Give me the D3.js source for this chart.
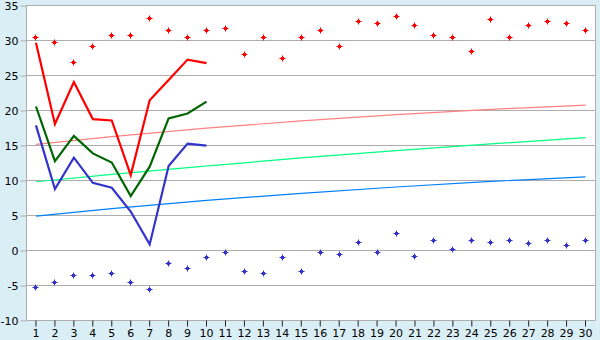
<!DOCTYPE html>
<html>
<head>
<meta charset="utf-8">
<script src="https://cdn.jsdelivr.net/npm/d3@7"></script>
<style>
    body { margin: 0; background: #daeef5; }
    #viz { width: 600px; height: 340px; }
    text { font-family: "DejaVu Sans", Verdana, sans-serif; font-size: 11px; fill: #000; }
</style>
</head>
<body>
<div id="viz"></div>
<script>
// days 1..30
var days = d3.range(1, 31);
var yTicks = [-10, -5, 0, 5, 10, 15, 20, 25, 30, 35];

// scattered points (top = red, bottom = blue)
var highPoints = [30.4, 29.6, 26.8, 29.0, 30.7, 30.7, 33.1, 31.3, 30.4, 31.3,
    31.7, 27.9, 30.4, 27.4, 30.4, 31.4, 29.0, 32.7, 32.4, 33.3,
    32.0, 30.7, 30.3, 28.4, 32.9, 30.4, 32.0, 32.6, 32.4, 31.4];
var lowPoints = [-5.3, -4.6, -3.7, -3.6, -3.3, -4.7, -5.7, -1.9, -2.6, -1.1,
    -0.4, -3.0, -3.3, -1.0, -3.0, -0.3, -0.7, 1.1, -0.4, 2.4,
    -0.9, 1.3, 0.1, 1.4, 1.1, 1.4, 0.9, 1.3, 0.7, 1.4];

// first ten days as lines
var redLine = [29.6, 18.0, 24.0, 18.7, 18.5, 10.7, 21.4, 24.3, 27.2, 26.7];
var greenLine = [20.5, 12.7, 16.3, 13.8, 12.5, 7.7, 11.9, 18.8, 19.5, 21.2];
var blueLine = [17.8, 8.7, 13.2, 9.6, 8.9, 5.5, 0.8, 12.0, 15.2, 14.9];

// trend curves, read at a few days
var trendDays = [1, 5, 10, 15, 20, 25, 30];
var pinkTrend = [15.1, 16.2, 17.4, 18.45, 19.35, 20.1, 20.7];
var springTrend = [9.75, 10.8, 12.0, 13.15, 14.2, 15.15, 16.05];
var skyTrend = [4.85, 5.9, 7.1, 8.1, 9.0, 9.8, 10.45];

function drawChart() {
    var width = 600;
    var height = 340;
    var margin = {
        top: 5,
        right: 5,
        bottom: 20,
        left: 26.5
    }

    var svg = d3.select("#viz")
        .append('svg')
        .attr('width', width)
        .attr('height', height);

    var xScale = d3.scaleBand()
        .domain(days)
        .range([margin.left, width - margin.right]);
    var yScale = d3.scaleLinear()
        .domain([-10, 35])
        .range([height - margin.bottom, margin.top]);

    function cx(d) {
        return xScale(d) + xScale.bandwidth() / 2;
    }

    // plot background
    svg.append('rect')
        .attr('x', margin.left)
        .attr('y', margin.top)
        .attr('width', width - margin.right - margin.left)
        .attr('height', height - margin.bottom - margin.top)
        .attr('fill', '#fff');

    // grid lines
    svg.append('g')
        .selectAll('line')
        .data(yTicks)
        .join('line')
        .attr('x1', margin.left)
        .attr('x2', width - margin.right)
        .attr('y1', function (d) { return Math.round(yScale(d)) + 0.5; })
        .attr('y2', function (d) { return Math.round(yScale(d)) + 0.5; })
        .attr('stroke', '#adadad');

    // left and right borders
    svg.append('line')
        .attr('x1', margin.left).attr('x2', margin.left)
        .attr('y1', margin.top).attr('y2', height - margin.bottom + 0.5)
        .attr('stroke', '#adadad');
    svg.append('line')
        .attr('x1', width - margin.right + 0.5).attr('x2', width - margin.right + 0.5)
        .attr('y1', margin.top).attr('y2', height - margin.bottom + 0.5)
        .attr('stroke', '#adadad');

    var yAxis = svg.append('g')
        .attr('transform', 'translate(' + margin.left + ',0.5)')
        .call(d3.axisLeft(yScale).tickValues(yTicks).tickSize(6).tickPadding(2)
            .tickFormat(function (d) { return String(d); }));
    yAxis.select('.domain').remove();
    yAxis.selectAll('line').attr('stroke', '#adadad');

    var xAxis = svg.append('g')
        .attr('transform', 'translate(0,' + (height - margin.bottom + 0.5) + ')')
        .call(d3.axisBottom(xScale).tickSize(6).tickPadding(3));
    xAxis.select('.domain').remove();
    xAxis.selectAll('line').attr('stroke', '#222');

    // trend curves
    var trendLine = d3.line()
        .x(function (d, i) { return cx(trendDays[i]); })
        .y(function (d) { return yScale(d); })
        .curve(d3.curveMonotoneX);
    [[pinkTrend, '#ff8080'], [springTrend, '#00ff80'], [skyTrend, '#0080ff']].forEach(function (t) {
        svg.append('path')
            .datum(t[0])
            .attr('d', trendLine)
            .attr('fill', 'none')
            .attr('stroke', t[1])
            .attr('stroke-width', 1.2);
    });

    // first ten days lines
    var line = d3.line()
        .x(function (d, i) { return cx(days[i]); })
        .y(function (d) { return yScale(d); });
    [[redLine, '#ff0000'], [greenLine, '#006600'], [blueLine, '#3333cc']].forEach(function (s) {
        svg.append('path')
            .datum(s[0])
            .attr('d', line)
            .attr('fill', 'none')
            .attr('stroke', s[1])
            .attr('stroke-width', 2.2);
    });

    // small stepped diamond markers, snapped to pixel centres
    var marker = 'M-0.5,-3H0.5V-1.5H1.5V-0.5H3V0.5H1.5V1.5H0.5V3H-0.5V1.5H-1.5V0.5H-3V-0.5H-1.5V-1.5H-0.5Z';
    [[highPoints, '#ff0000'], [lowPoints, '#3333cc']].forEach(function (s) {
        svg.append('g')
            .selectAll('path')
            .data(s[0])
            .join('path')
            .attr('d', marker)
            .attr('transform', function (d, i) {
                return 'translate(' + (Math.floor(cx(days[i])) + 0.5) + ',' +
                    (Math.floor(yScale(d)) + 0.5) + ')';
            })
            .attr('fill', s[1]);
    });
}

drawChart()
</script>
</body>
</html>
